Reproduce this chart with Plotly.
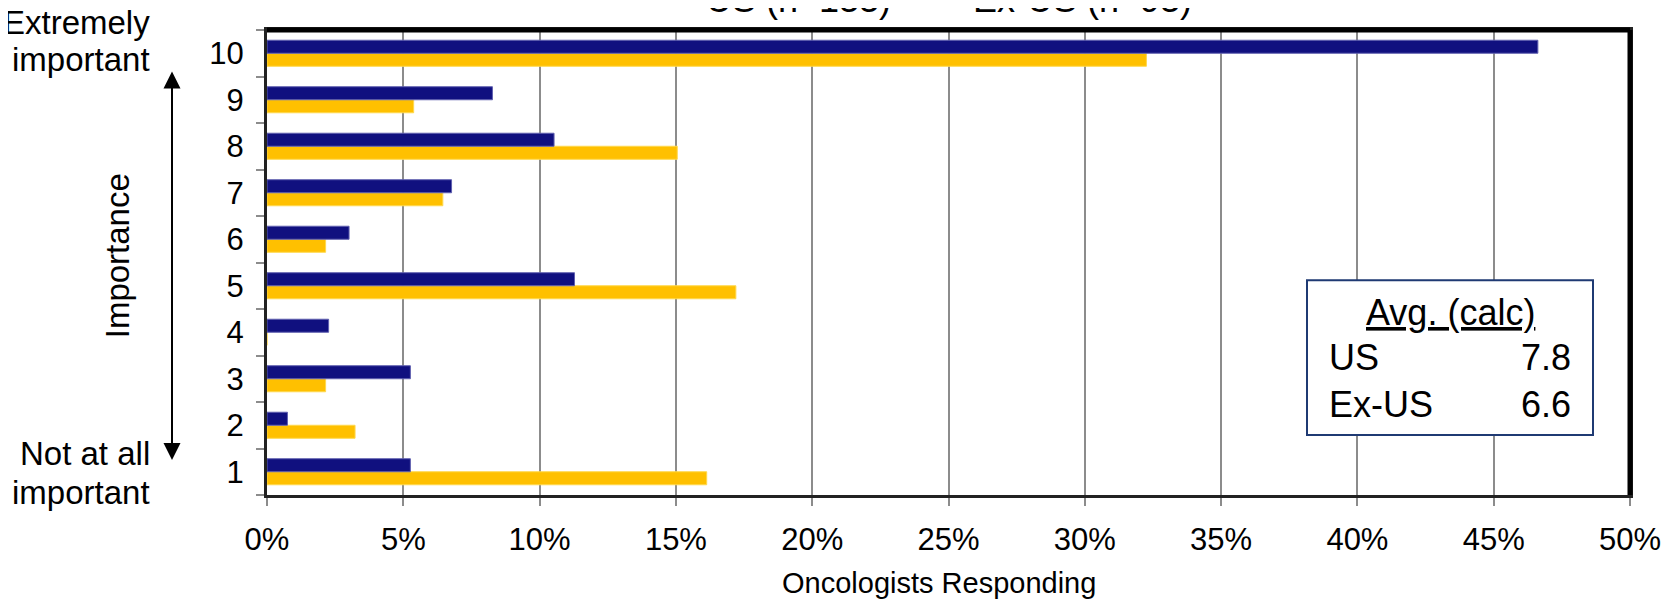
import plotly.graph_objects as go

categories = ["1", "2", "3", "4", "5", "6", "7", "8", "9", "10"]
us_values = [5.26, 0.75, 5.26, 2.26, 11.28, 3.01, 6.77, 10.53, 8.27, 46.62]
exus_values = [16.13, 3.23, 2.15, 0.0, 17.20, 2.15, 6.45, 15.05, 5.38, 32.26]
series_names = ["US (n=133)", "Ex-US (n=93)"]
x_tick_vals = [0, 5, 10, 15, 20, 25, 30, 35, 40, 45, 50]
x_tick_text = ["0%", "5%", "10%", "15%", "20%", "25%", "30%", "35%", "40%", "45%", "50%"]
avg_labels = ["US", "Ex-US"]
avg_values = ["7.8", "6.6"]

FONT = "Arial, Liberation Sans, sans-serif"
OFF = 8  # page offset of the figure (body margin)
PAGE_W, PAGE_H = 1670, 599
W, H = PAGE_W - OFF, PAGE_H - OFF
# plot area in page pixels
P_L, P_R, P_T, P_B = 267, 1630, 29.5, 495
ML, MR, MT, MB = P_L - OFF, W - (P_R - OFF), P_T - OFF, H - (P_B - OFF)
PW, PH = P_R - P_L, P_B - P_T

def px_x(p):
    return (p - P_L) / PW

def px_y(p):
    return (P_B - p) / PH

fig = go.Figure()
fig.add_trace(go.Bar(
    y=categories, x=exus_values, orientation="h", name=series_names[1],
    marker=dict(color="#FFC000", line=dict(color="#FFD84D", width=1)),
))
fig.add_trace(go.Bar(
    y=categories, x=us_values, orientation="h", name=series_names[0],
    marker=dict(color="#10107F", line=dict(color="#6060B0", width=1)),
))

fig.update_layout(
    width=W, height=H,
    margin=dict(l=ML, r=MR, t=MT, b=MB, autoexpand=False),
    paper_bgcolor="white", plot_bgcolor="white",
    barmode="group", bargap=0.44, bargroupgap=0,
    font=dict(family=FONT, size=31, color="black"),
    showlegend=True,
    legend=dict(
        orientation="h", traceorder="reversed",
        x=px_x(666), xanchor="left",
        y=px_y(-2.5), yanchor="middle",
        font=dict(size=36, family=FONT),
        bgcolor="rgba(0,0,0,0)", entrywidth=222,
    ),
    xaxis=dict(
        range=[0, 50], tickvals=x_tick_vals, ticktext=x_tick_text,
        showgrid=True, gridcolor="#8C8C8C", gridwidth=2,
        showline=True, linecolor="#222222", linewidth=3, mirror=True,
        ticks="outside", ticklen=8, tickwidth=2, tickcolor="#8C8C8C",
        tickfont=dict(size=31), ticklabelstandoff=7,
        zeroline=False,
    ),
    yaxis=dict(
        type="category", categoryorder="array", categoryarray=categories,
        showgrid=False,
        showline=True, linecolor="#222222", linewidth=3, mirror=True,
        ticks="outside", tickson="boundaries", ticklen=8, tickwidth=2, tickcolor="#8C8C8C",
        tickfont=dict(size=31), ticklabelstandoff=14,
    ),
)

# x axis title
fig.add_annotation(xref="paper", yref="paper", x=px_x(939), y=px_y(583),
                   text="Oncologists Responding", showarrow=False,
                   font=dict(size=29, family=FONT), xanchor="center", yanchor="middle")

# heavier top/right border
fig.add_shape(type="line", xref="paper", yref="paper", x0=0, x1=1, y0=1, y1=1,
              line=dict(color="black", width=5))
fig.add_shape(type="line", xref="paper", yref="paper", x0=1, x1=1, y0=0, y1=1,
              line=dict(color="black", width=5))

# Avg box
fig.add_shape(type="rect", xref="paper", yref="paper",
              x0=px_x(1307), x1=px_x(1593), y0=px_y(435), y1=px_y(280),
              line=dict(color="#1F3A73", width=2), fillcolor="white", layer="above")
fig.add_annotation(xref="paper", yref="paper", x=px_x(1450), y=px_y(312),
                   text="<u>Avg. (calc)</u>", showarrow=False,
                   font=dict(size=36, family=FONT), xanchor="center", yanchor="middle")
for lab, val, yy in zip(avg_labels, avg_values, [357, 404]):
    fig.add_annotation(xref="paper", yref="paper", x=px_x(1327), y=px_y(yy),
                       text=lab, showarrow=False, font=dict(size=36, family=FONT),
                       xanchor="left", yanchor="middle")
    fig.add_annotation(xref="paper", yref="paper", x=px_x(1573), y=px_y(yy),
                       text=val, showarrow=False, font=dict(size=36, family=FONT),
                       xanchor="right", yanchor="middle")

# left side labels (one annotation per line)
left_lines = [("Extremely", 22), ("important", 59), ("Not at all", 453), ("important", 492)]
for txt, yy in left_lines:
    fig.add_annotation(xref="paper", yref="paper", x=px_x(152), y=px_y(yy),
                       text=txt, showarrow=False,
                       font=dict(size=33, family=FONT), xanchor="right", yanchor="middle")
fig.add_annotation(xref="paper", yref="paper", x=px_x(117), y=px_y(256),
                   text="Importance", showarrow=False, textangle=-90,
                   font=dict(size=33, family=FONT), xanchor="center", yanchor="middle")
# double-headed arrow
fig.add_annotation(xref="paper", yref="paper", x=px_x(172), y=px_y(71),
                   ax=0, ay=461 - 71, text="", showarrow=True,
                   arrowhead=2, startarrowhead=2, arrowside="end+start",
                   arrowwidth=2, arrowsize=1.7, startarrowsize=1.7, arrowcolor="black")

fig.write_html("out.html")
